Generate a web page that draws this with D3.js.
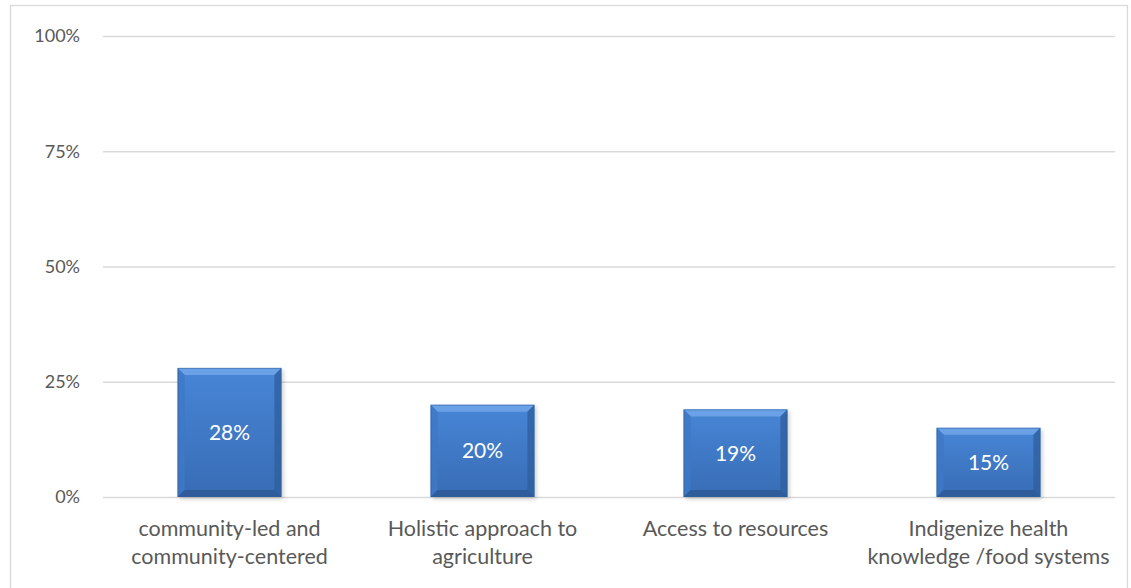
<!DOCTYPE html>
<html>
<head>
<meta charset="utf-8">
<script src="https://cdn.jsdelivr.net/npm/d3@7"></script>
<style>
  html, body { margin: 0; padding: 0; background: #ffffff; }
  svg { display: block; font-family: Lato, "Open Sans", "Liberation Sans", sans-serif; }
</style>
</head>
<body>
<svg id="chart" width="1131" height="588"></svg>
<script>
// Share of responses per theme
const categories = [
  ["community-led and", "community-centered"],
  ["Holistic approach to", "agriculture"],
  ["Access to resources"],
  ["Indigenize health", "knowledge /food systems"]
];
const values = [0.28, 0.20, 0.19, 0.15];
const yTicks = [0, 0.25, 0.5, 0.75, 1];

const W = 1131, H = 588;
const margin = { left: 103, right: 16, top: 36, bottom: 91 };
const svg = d3.select("#chart");

// Outer chart frame
svg.append("rect")
  .attr("x", 10.5).attr("y", 5.5)
  .attr("width", W - 14).attr("height", H + 20)
  .attr("fill", "#ffffff").attr("stroke", "#d9d9d9").attr("stroke-width", 1.3);

const x = d3.scaleBand()
  .domain(d3.range(categories.length))
  .range([margin.left, W - margin.right])
  .paddingInner(0.59).paddingOuter(0.295);

const y = d3.scaleLinear()
  .domain([0, 1])
  .range([H - margin.bottom, margin.top]);

// Gridlines + y labels
const yAxis = d3.axisLeft(y)
  .tickValues(yTicks)
  .tickFormat(d3.format(".0%"))
  .tickSize(-(W - margin.right - margin.left))
  .tickPadding(23);
const gy = svg.append("g")
  .attr("transform", `translate(${margin.left},0)`)
  .call(yAxis);
gy.select(".domain").remove();
gy.selectAll(".tick line").attr("stroke", "#d9d9d9").attr("stroke-width", 1.4);
gy.selectAll(".tick text")
  .attr("fill", "#595959").attr("font-size", 18)
  .attr("font-family", "Lato, 'Open Sans', sans-serif");

// Bevel gradients
const defs = svg.append("defs");
const body = defs.append("linearGradient").attr("id", "barBody")
  .attr("x1", 0).attr("y1", 0).attr("x2", 0).attr("y2", 1);
body.append("stop").attr("offset", "0%").attr("stop-color", "#4786d6");
body.append("stop").attr("offset", "100%").attr("stop-color", "#386cb5");

const shadow = defs.append("filter").attr("id", "shadow")
  .attr("x", "-20%").attr("y", "-20%").attr("width", "140%").attr("height", "140%");
shadow.append("feGaussianBlur").attr("stdDeviation", 2);

const bevel = 7;
const bars = svg.append("g").selectAll("g")
  .data(values)
  .join("g");

bars.each(function(v, i) {
  const g = d3.select(this);
  const x0 = x(i), x1 = x(i) + x.bandwidth();
  const y0 = y(v), y1 = y(0);
  const b = bevel;

  // soft drop shadow
  g.append("rect")
    .attr("x", x0 + 2).attr("y", y0 + 2)
    .attr("width", x1 - x0).attr("height", y1 - y0)
    .attr("fill", "#000").attr("opacity", 0.2)
    .attr("filter", "url(#shadow)");

  // body
  g.append("rect")
    .attr("x", x0).attr("y", y0)
    .attr("width", x1 - x0).attr("height", y1 - y0)
    .attr("fill", "url(#barBody)");

  // bevel edges
  const faces = [
    { pts: [[x0, y0], [x1, y0], [x1 - b, y0 + b], [x0 + b, y0 + b]], c: "#74a8ea" },
    { pts: [[x0, y0], [x0 + b, y0 + b], [x0 + b, y1 - b], [x0, y1]], c: "#3e78c6" },
    { pts: [[x1, y0], [x1, y1], [x1 - b, y1 - b], [x1 - b, y0 + b]], c: "#30609f" },
    { pts: [[x0, y1], [x0 + b, y1 - b], [x1 - b, y1 - b], [x1, y1]], c: "#2d5894" }
  ];
  faces.forEach(f => {
    g.append("polygon")
      .attr("points", f.pts.map(p => p.join(",")).join(" "))
      .attr("fill", f.c).attr("opacity", 0.8);
  });
  g.append("rect")
    .attr("x", x0 + 0.5).attr("y", y0 + 0.5)
    .attr("width", x1 - x0 - 1).attr("height", y1 - y0 - 1)
    .attr("fill", "none").attr("stroke", "#2f5e9e").attr("stroke-width", 1).attr("opacity", 0.5);

  // value label
  g.append("text")
    .attr("x", (x0 + x1) / 2)
    .attr("y", (y0 + y1) / 2)
    .attr("dy", "0.35em")
    .attr("text-anchor", "middle")
    .attr("fill", "#ffffff")
    .attr("font-size", 21)
    .text(d3.format(".0%")(v));
});

// Category labels
const xl = svg.append("g");
categories.forEach((lines, i) => {
  const t = xl.append("text")
    .attr("x", x(i) + x.bandwidth() / 2)
    .attr("y", 536)
    .attr("text-anchor", "middle")
    .attr("fill", "#595959")
    .attr("font-size", 21.5);
  lines.forEach((ln, j) => {
    t.append("tspan")
      .attr("x", x(i) + x.bandwidth() / 2)
      .attr("dy", j === 0 ? 0 : 28)
      .text(ln);
  });
});
</script>
</body>
</html>
